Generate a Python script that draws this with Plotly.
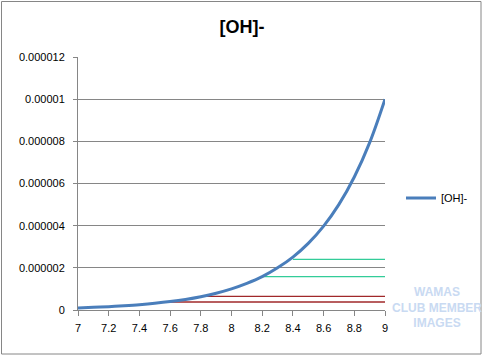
import plotly.graph_objects as go

ph = [7.0, 7.1, 7.2, 7.3, 7.4, 7.5, 7.6, 7.7, 7.8, 7.9, 8.0,
      8.1, 8.2, 8.3, 8.4, 8.5, 8.6, 8.7, 8.8, 8.9, 9.0]
oh = [1.0e-7, 1.26e-7, 1.58e-7, 2.0e-7, 2.51e-7, 3.16e-7, 3.98e-7, 5.01e-7,
      6.31e-7, 7.94e-7, 1.0e-6, 1.26e-6, 1.58e-6, 2.0e-6, 2.51e-6, 3.16e-6,
      3.98e-6, 5.01e-6, 6.31e-6, 7.94e-6, 1.0e-5]

# reference levels: (start pH, end pH, value)
green_starts = [8.4, 8.2]
green_values = [2.4e-6, 1.58e-6]
red_starts = [7.8, 7.6]
red_values = [6.5e-7, 3.8e-7]
line_end = 9.0

x_ticks = [7, 7.2, 7.4, 7.6, 7.8, 8, 8.2, 8.4, 8.6, 8.8, 9]
x_labels = ["7", "7.2", "7.4", "7.6", "7.8", "8", "8.2", "8.4", "8.6", "8.8", "9"]
y_ticks = [0, 2e-6, 4e-6, 6e-6, 8e-6, 1e-5, 1.2e-5]
y_labels = ["0", "0.000002", "0.000004", "0.000006", "0.000008", "0.00001", "0.000012"]

fig = go.Figure()
for s, v in zip(green_starts, green_values):
    fig.add_trace(go.Scatter(x=[s, line_end], y=[v, v], mode="lines",
                             line=dict(color="#33CC99", width=1.3), showlegend=False,
                             hoverinfo="skip"))
for s, v in zip(red_starts, red_values):
    fig.add_trace(go.Scatter(x=[s, line_end], y=[v, v], mode="lines",
                             line=dict(color="#A0282A", width=1.3), showlegend=False,
                             hoverinfo="skip"))
fig.add_trace(go.Scatter(x=ph, y=oh, mode="lines", name="[OH]-",
                         line=dict(color="#4A7EBB", width=3, shape="spline")))

font = "Liberation Sans, Arial, sans-serif"
fig.update_layout(
    width=486, height=357,
    margin=dict(l=78, r=101, t=57, b=47, autoexpand=False),
    paper_bgcolor="white", plot_bgcolor="white",
    font=dict(family=font, size=11, color="#000000"),
    title=dict(text="<b>[OH]-</b>", x=(242 - 78) / 307, xref="paper", xanchor="center",
               y=1 - 27 / 357, yanchor="middle", font=dict(size=18, family=font)),
    legend=dict(x=(401 - 78) / 307, y=0.443, xanchor="left", yanchor="middle",
                font=dict(size=11, family=font), itemwidth=30,
                bgcolor="rgba(0,0,0,0)"),
    xaxis=dict(range=[7, 9], tickvals=x_ticks, ticktext=x_labels,
               showgrid=False, zeroline=False, showline=True, linecolor="#868686",
               linewidth=1, ticks="outside", ticklen=5, tickcolor="#868686",
               tickfont=dict(size=11), ticklabelstandoff=3),
    yaxis=dict(range=[0, 1.2e-5], tickvals=y_ticks, ticktext=y_labels,
               showgrid=True, gridcolor="#868686", gridwidth=1, zeroline=False,
               showline=True, linecolor="#868686", linewidth=1, ticks="outside",
               ticklen=4, tickcolor="#868686", tickfont=dict(size=11),
               ticklabelstandoff=6),
    shapes=[dict(type="rect", xref="paper", yref="paper",
                 x0=(1.5 - 78) / 307, x1=(481 - 78) / 307,
                 y0=(310 - 354) / 253, y1=(310 - 1.5) / 253,
                 line=dict(color="#868686", width=1), fillcolor="rgba(0,0,0,0)")],
    annotations=[dict(text="<b>WAMAS<br>CLUB MEMBER<br>IMAGES</b>", xref="paper", yref="paper",
                      x=(437 - 78) / 307, y=(310 - 307) / 253, xanchor="center", yanchor="middle",
                      showarrow=False, font=dict(size=12, color="#C9DAF2", family=font),
                      align="center")],
)

fig.write_html("out.html", config={"displayModeBar": False},
               post_script="document.body.style.margin='0';document.body.style.overflow='hidden';")
